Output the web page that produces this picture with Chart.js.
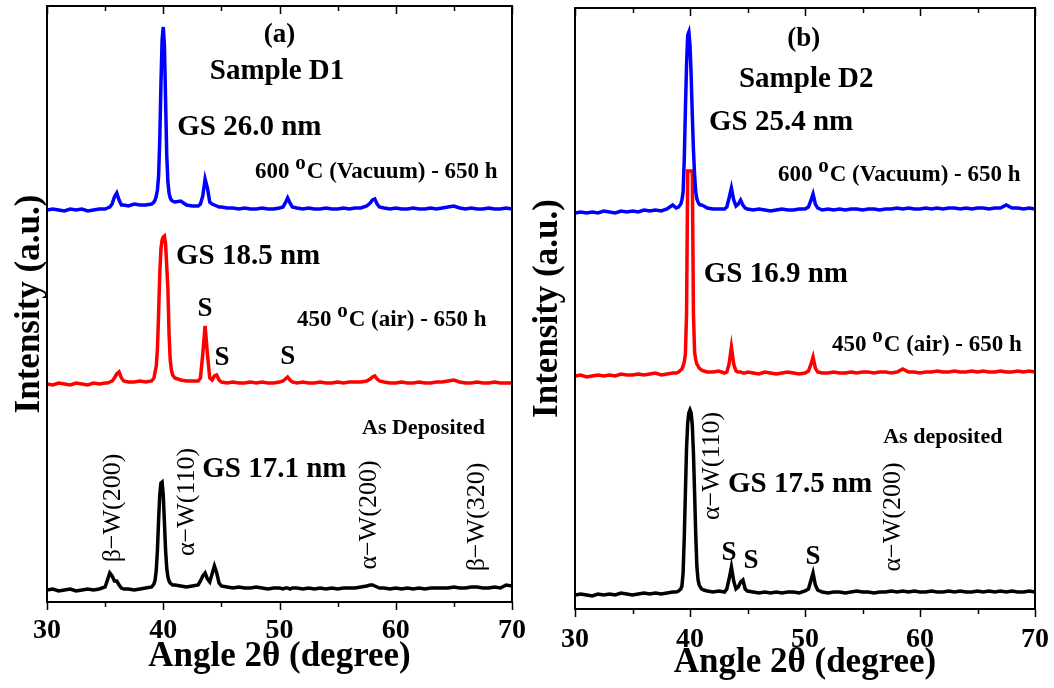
<!DOCTYPE html>
<html>
<head>
<meta charset="utf-8">
<script src="https://cdn.jsdelivr.net/npm/chart.js@4.4.0/dist/chart.umd.min.js"></script>
<style>
  html, body { margin: 0; padding: 0; background: #fff; }
  #wrap { position: relative; width: 1054px; height: 688px; }
  .panel { position: absolute; top: 0; width: 527px; height: 688px; }
</style>
</head>
<body>
<div id="wrap">
  <div class="panel" style="left:0"><canvas id="chartA" width="527" height="688"></canvas></div>
  <div class="panel" style="left:527px"><canvas id="chartB" width="527" height="688"></canvas></div>
</div>
<script>
// ---- panel (a): sample D1 ----
const degA = [30,30.5,31,31.5,32,32.5,33,33.5,34,34.5,
  35.0,35.2,35.4,35.6,35.8,36.0,36.2,36.4,36.6,
  37,37.5,38,38.5,
  39.0,39.2,39.3,39.4,39.5,39.6,39.7,39.8,39.9,40.0,40.1,40.2,40.3,40.4,40.5,40.6,40.7,40.8,41.0,
  41.5,42,42.5,
  43.0,43.2,43.4,43.6,43.8,44.0,44.2,44.4,44.6,44.8,45.0,
  45.5,46,46.5,47,47.5,48,48.5,49,49.5,50,
  50.3,50.5,50.7,50.9,51.1,
  51.5,52,52.5,53,53.5,54,54.5,55,55.5,56,56.5,57,57.5,
  57.8,58.0,58.2,58.4,58.6,
  59,59.5,60,60.5,61,61.5,62,62.5,63,63.5,64,64.5,65,65.5,66,66.5,67,67.5,68,68.5,69,69.5,70];

const asDepA = [0,1,-1,0,1,-1,0,1,0,1,
  3,10,17,14,9,9,5,2,1,
  1,0,1,2,
  3,6,10,20,40,70,95,107,108,95,68,40,22,13,9,7,6,5,5,
  4,3,4,
  5,9,14,17,11,8,16,24,17,7,4,
  3,2,3,2,2,3,2,1,2,2,
  1,2,2,1,2,
  2,1,2,1,2,1,2,1,2,2,2,3,4,
  5,5,4,3,2,
  2,1,2,1,2,1,2,1,2,2,2,2,3,2,2,3,3,2,2,3,2,5,4];

const air450A = [0,-1,1,0,-1,1,0,-1,1,0,
  1,1,2,3,6,10,12,6,3,
  2,2,3,2,
  3,6,12,18,35,70,110,135,144,147,148,140,118,95,50,24,14,9,6,
  4,3,3,
  3,6,30,58,30,6,4,8,9,4,2,
  1,2,1,1,2,1,2,1,1,2,
  3,5,7,4,2,
  1,2,1,1,2,1,1,2,1,2,2,2,3,
  5,7,8,5,3,
  2,1,1,2,1,1,2,1,1,2,2,3,4,2,1,1,2,1,1,2,1,1,1];

const vac600A = [0,1,0,-1,1,0,1,-1,0,1,
  1,2,3,6,13,17,10,5,5,
  4,6,5,5,
  6,8,10,14,20,34,70,125,170,183,165,110,55,28,17,12,10,9,8,
  9,5,4,
  4,6,14,31,22,8,6,5,4,3,3,
  2,2,1,2,1,1,2,1,1,2,
  3,7,12,7,3,
  2,1,2,1,1,2,1,1,2,1,2,2,4,
  7,10,11,6,3,
  2,1,2,1,1,2,1,1,2,1,2,3,4,2,1,2,1,1,2,1,1,2,1];

// ---- panel (b): sample D2 ----
const degB = [30,30.5,31,31.5,32,32.5,33,33.5,34,34.5,35,35.5,36,36.5,37,37.5,38,38.5,
  38.8,39.0,39.2,39.3,39.4,39.5,39.6,39.7,39.8,39.9,40.0,40.1,40.2,40.3,40.4,40.5,40.6,40.7,40.8,40.9,41.0,41.2,
  41.5,42,42.5,
  43.0,43.2,43.4,43.6,43.8,44.0,44.2,44.4,44.6,44.8,45.0,
  45.5,46,46.5,47,47.5,48,48.5,49,49.5,50,
  50.3,50.5,50.7,50.9,51.1,
  51.5,52,52.5,53,53.5,54,54.5,55,55.5,56,56.5,57,57.5,58,58.5,59,59.5,60,60.5,61,61.5,62,62.5,63,63.5,64,64.5,65,65.5,66,66.5,67,67.5,68,68.5,69,69.5,70];

const asDepB = [-2,-1,-2,-3,-1,-2,-1,-2,0,-1,-2,-1,0,-1,0,-1,0,1,
  1,2,4,7,20,55,100,145,170,180,183,180,168,140,100,58,26,13,8,6,4,3,
  2,1,2,
  1,4,14,26,12,4,6,11,13,4,2,
  1,0,1,0,1,0,1,1,0,2,
  4,12,20,8,3,
  1,0,1,1,0,1,2,1,1,0,1,1,2,1,2,1,2,1,1,2,1,1,2,1,2,1,1,2,1,2,1,2,1,2,1,1,2,1];

const air450B = [-2,-1,-3,-2,-1,-2,-1,-2,0,-1,-1,0,-1,0,1,-1,0,1,
  1,2,4,5,8,12,20,60,203,203,203,203,203,60,22,14,10,8,6,5,4,3,
  2,2,3,
  1,2,10,27,10,3,2,2,1,1,2,
  1,0,2,1,0,1,2,1,0,1,
  3,9,17,6,2,
  1,1,2,1,1,2,1,2,2,1,2,2,1,2,5,2,2,1,2,2,3,2,2,3,2,2,3,2,3,2,2,3,2,2,3,2,3,2];

const vac600B = [-3,-2,-3,-2,-3,-1,-2,-3,-1,-2,-1,-2,0,-1,0,-1,1,5,
  2,3,6,10,18,50,100,145,175,178,165,135,95,60,35,18,11,8,6,5,5,4,
  2,1,1,
  1,3,12,22,10,4,6,10,5,2,1,
  0,1,0,-1,0,1,0,0,1,1,
  3,9,16,6,2,
  0,1,0,1,0,1,1,0,1,1,0,1,1,2,1,2,1,1,2,1,2,1,2,2,1,2,1,2,2,1,2,2,5,2,2,1,2,1];

// vertical stacking of the three patterns
const offsetsA = { asDep: 12, air: 218, vac: 392 };
const offsetsB = { asDep: 16, air: 235, vac: 399 };

const xTicks = [30, 40, 50, 60, 70];

const FONT = '"Liberation Serif", "Times New Roman", serif';

const notesA = [
  { x: 50.0, y: 567, text: '(a)', size: 27, align: 'center' },
  { x: 44.0, y: 530, text: 'Sample D1', size: 29 },
  { x: 41.2, y: 474, text: 'GS 26.0 nm', size: 29 },
  { x: 47.9, y: 430, text: '600 ', sup: 'o', post: 'C (Vacuum) - 650 h', size: 23 },
  { x: 41.1, y: 345, text: 'GS 18.5 nm', size: 29 },
  { x: 51.5, y: 282, text: '450 ', sup: 'o', post: 'C (air) - 650 h', size: 23 },
  { x: 43.6, y: 293, text: 'S', size: 27, align: 'center' },
  { x: 45.05, y: 244, text: 'S', size: 27, align: 'center' },
  { x: 50.7, y: 245, text: 'S', size: 27, align: 'center' },
  { x: 57.1, y: 174, text: 'As Deposited', size: 22 },
  { x: 43.35, y: 132, text: 'GS 17.1 nm', size: 29 },
  { x: 35.7, y: 94, text: 'β\u2212W(200)', size: 26, rotate: true },
  { x: 42.05, y: 100, text: 'α\u2212W(110)', size: 26, rotate: true },
  { x: 57.75, y: 87, text: 'α\u2212W(200)', size: 26, rotate: true },
  { x: 67.0, y: 85, text: 'β\u2212W(320)', size: 26, rotate: true }
];

const notesB = [
  { x: 49.9, y: 570, text: '(b)', size: 27, align: 'center' },
  { x: 44.26, y: 529, text: 'Sample D2', size: 29 },
  { x: 41.65, y: 486, text: 'GS 25.4 nm', size: 29 },
  { x: 47.65, y: 434, text: '600 ', sup: 'o', post: 'C (Vacuum) - 650 h', size: 23 },
  { x: 41.2, y: 334, text: 'GS 16.9 nm', size: 29 },
  { x: 52.35, y: 264, text: '450 ', sup: 'o', post: 'C (air) - 650 h', size: 23 },
  { x: 56.8, y: 172, text: 'As deposited', size: 22 },
  { x: 43.3, y: 124, text: 'GS 17.5 nm', size: 29 },
  { x: 41.9, y: 143, text: 'α\u2212W(110)', size: 26, rotate: true },
  { x: 57.65, y: 92, text: 'α\u2212W(200)', size: 26, rotate: true },
  { x: 43.4, y: 56, text: 'S', size: 27, align: 'center' },
  { x: 45.3, y: 48, text: 'S', size: 27, align: 'center' },
  { x: 50.7, y: 52, text: 'S', size: 27, align: 'center' }
];

function drawNote(ctx, px, py, n) {
  const weight = n.rotate ? 'normal' : 'bold';
  const main = `${weight} ${n.size}px ${FONT}`;
  ctx.fillStyle = '#000';
  ctx.textBaseline = 'middle';
  ctx.font = main;
  if (n.rotate) {
    ctx.save();
    ctx.translate(px, py);
    ctx.rotate(-Math.PI / 2);
    ctx.textAlign = 'center';
    ctx.fillText(n.text, 0, 0);
    ctx.restore();
    return;
  }
  if (n.sup) {
    let cx = px;
    ctx.textAlign = 'left';
    ctx.fillText(n.text, cx, py);
    cx += ctx.measureText(n.text).width;
    ctx.font = `bold ${Math.round(n.size * 0.9)}px ${FONT}`;
    ctx.fillText(n.sup, cx, py - n.size * 0.38);
    cx += ctx.measureText(n.sup).width + 1;
    ctx.font = main;
    ctx.fillText(n.post, cx, py);
    return;
  }
  ctx.textAlign = n.align || 'left';
  ctx.fillText(n.text, px, py);
}

function notesPlugin(notes) {
  return {
    id: 'notes',
    afterDraw(chart) {
      const { ctx, scales } = chart;
      ctx.save();
      notes.forEach(n => drawNote(ctx, scales.x.getPixelForValue(n.x), scales.y.getPixelForValue(n.y), n));
      ctx.restore();
    }
  };
}

// box frame with inward ticks on top and outward ticks at the bottom
const framePlugin = {
  id: 'frame',
  afterDatasetsDraw(chart) {
    const { ctx, chartArea: a, scales: { x } } = chart;
    ctx.save();
    ctx.strokeStyle = '#000';
    ctx.lineWidth = 1.5;
    for (let v = 30; v <= 70; v += 5) {
      const px = Math.round(x.getPixelForValue(v)) + 0.5;
      const len = v % 10 === 0 ? 8 : 5;
      ctx.beginPath();
      ctx.moveTo(px, a.top);
      ctx.lineTo(px, a.top + len);
      ctx.moveTo(px, a.bottom);
      ctx.lineTo(px, a.bottom + len);
      ctx.stroke();
    }
    ctx.lineWidth = 2;
    ctx.strokeRect(a.left, a.top, a.right - a.left, a.bottom - a.top);
    ctx.restore();
  }
};

function makeChart(id, angles, sets, offs, opt) {
  const series = [
    { label: 'As deposited', values: sets.asDep, off: offs.asDep, color: '#000000' },
    { label: '600 C (Vacuum) - 650 h', values: sets.vac, off: offs.vac, color: '#0000ff' },
    { label: '450 C (air) - 650 h', values: sets.air, off: offs.air, color: '#ff0000' }
  ];
  return new Chart(document.getElementById(id), {
    type: 'line',
    data: {
      datasets: series.map(s => ({
        label: s.label,
        data: angles.map((a, i) => ({ x: a, y: s.values[i] + s.off })),
        borderColor: s.color,
        borderWidth: 3.5,
        pointRadius: 0,
        tension: 0,
        fill: false
      }))
    },
    options: {
      responsive: false,
      animation: false,
      layout: { padding: { top: opt.top, right: opt.right, left: 0, bottom: 0 } },
      plugins: { legend: { display: false }, tooltip: { enabled: false } },
      scales: {
        x: {
          type: 'linear',
          min: 30, max: 70,
          afterBuildTicks: s => { s.ticks = xTicks.map(v => ({ value: v })); },
          afterFit: s => { s.height = opt.xHeight; s.paddingLeft = 0; s.paddingRight = 0; },
          grid: { display: false, drawTicks: false },
          border: { display: false },
          ticks: { color: '#000', padding: opt.tickPad, maxRotation: 0,
                   font: { family: FONT, size: 28, weight: 'bold' } },
          title: { display: true, text: 'Angle 2θ (degree)', color: '#000',
                   padding: { top: 0, bottom: opt.titlePad },
                   font: { family: FONT, size: 35, weight: 'bold', lineHeight: 1.2 } }
        },
        y: {
          min: 0, max: opt.yMax,
          afterFit: s => { s.width = opt.yWidth; s.paddingTop = 0; s.paddingBottom = 0; },
          grid: { display: false, drawTicks: false },
          border: { display: false },
          ticks: { display: false },
          title: { display: true, text: 'Intensity (a.u.)', color: '#000',
                   padding: { top: opt.yTitlePad, bottom: 0 },
                   font: { family: FONT, size: 35, weight: 'bold', lineHeight: 1.2 } }
        }
      }
    },
    plugins: [framePlugin, notesPlugin(opt.notes)]
  });
}

makeChart('chartA', degA, { asDep: asDepA, air: air450A, vac: vac600A }, offsetsA,
  { top: 6, right: 15, xHeight: 86, yWidth: 47, yMax: 596, tickPad: 12, titlePad: 10, yTitlePad: 9, notes: notesA });

makeChart('chartB', degB, { asDep: asDepB, air: air450B, vac: vac600B }, offsetsB,
  { top: 8, right: 19, xHeight: 79, yWidth: 48, yMax: 601, tickPad: 14, titlePad: 4, yTitlePad: 0, notes: notesB });
</script>
</body>
</html>
